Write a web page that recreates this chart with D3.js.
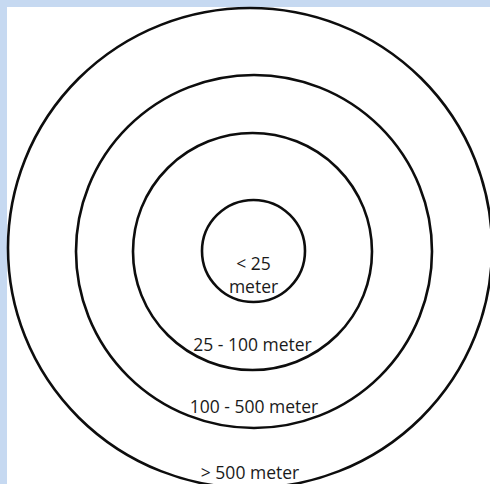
<!DOCTYPE html>
<html>
<head>
<meta charset="utf-8">
<script src="https://cdn.jsdelivr.net/npm/d3@7"></script>
<style>
  html, body { margin: 0; padding: 0; background: #c6d9f1; }
  svg { display: block; }
</style>
</head>
<body>
<svg id="chart"></svg>
<script>
// ---------------------------//
//            DATA            //
// ---------------------------//

// distance zones, inner to outer
var zones = ["lt25", "25-100", "100-500", "gt500"];
// label lines per zone
var zoneLabels = [["< 25", "meter"], ["25 - 100 meter"], ["100 - 500 meter"], ["> 500 meter"]];

// ---------------------------//
//         DIMENSIONS         //
// ---------------------------//

var width = 490;
var height = 484;
var frame = 7;   // blue edge top / left

// ring geometry (outer ring sits a bit up-left)
var cx = d3.scaleOrdinal().domain(zones).range([253.5, 252.5, 254, 250]);
var cy = d3.scaleOrdinal().domain(zones).range([251, 251.5, 251.5, 248]);
var rx = d3.scaleOrdinal().domain(zones).range([51.5, 119.5, 178, 242]);
var ry = d3.scaleOrdinal().domain(zones).range([51, 118.5, 176.5, 240]);

// ---------------------------//
//          CONTAINER         //
// ---------------------------//

var svg = d3.select("#chart")
    .attr("width", width)
    .attr("height", height);

svg.append("rect")
    .attr("x", frame)
    .attr("y", frame)
    .attr("width", width - frame)
    .attr("height", height - frame)
    .attr("fill", "#fff");

var plot = svg.append("g");

// ---------------------------//
//           RINGS            //
// ---------------------------//

plot.selectAll(".ring")
    .data(zones)
    .enter().append("ellipse")
    .attr("class", "ring")
    .attr("cx", d => cx(d))
    .attr("cy", d => cy(d))
    .attr("rx", d => rx(d))
    .attr("ry", d => ry(d))
    .attr("fill", "none")
    .attr("stroke", "#0d0d0d")
    .attr("stroke-width", 2.6);

// ---------------------------//
//           LABELS           //
// ---------------------------//

var lineGap = 23;

var labels = plot.selectAll(".label")
    .data(zones)
    .enter().append("text")
    .attr("class", "label")
    .attr("text-anchor", "middle")
    .style("font-family", "'Open Sans', sans-serif")
    .style("font-size", "17.5px")
    .attr("fill", "#1a1a1a");

labels.each(function(d, i) {
    var t = d3.select(this);
    var lines = zoneLabels[i];
    lines.forEach(function(s) {
        t.append("tspan").attr("x", cx(d)).text(s);
    });
    // sit the last line just inside the bottom of its ring
    var last = t.selectAll("tspan").nodes()[lines.length - 1];
    var w = last.getComputedTextLength();
    var half = Math.min(w / 2, rx(d) - 1);
    var base = cy(d) + ry(d) * Math.sqrt(1 - Math.pow(half / rx(d), 2)) - 3;
    base = Math.min(base, height - 5);
    t.selectAll("tspan")
        .attr("y", (s, j) => base - (lines.length - 1 - j) * lineGap);
});
</script>
</body>
</html>
